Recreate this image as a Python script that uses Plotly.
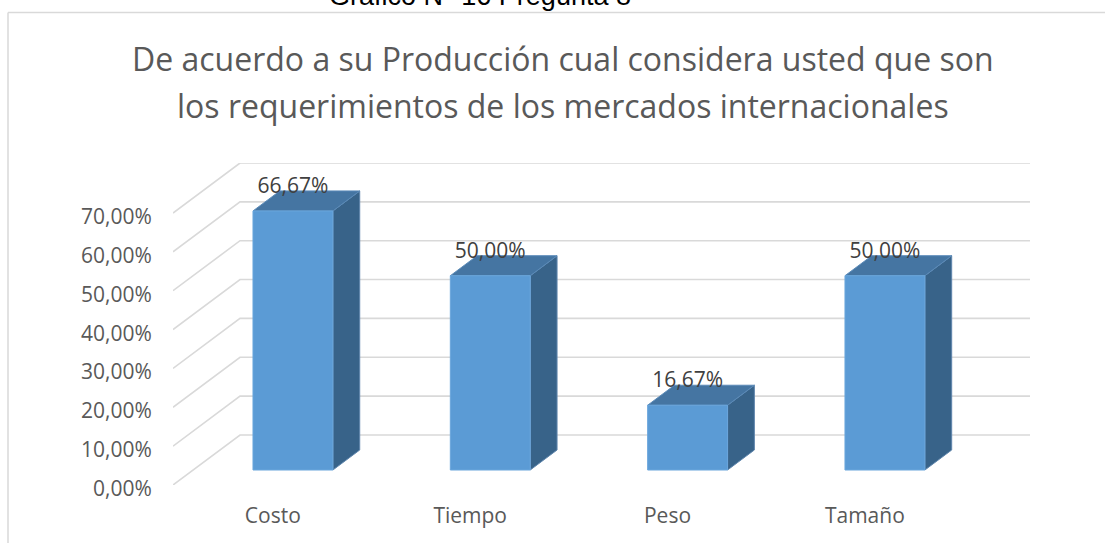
import plotly.graph_objects as go

# ---- data ----
categories = ["Costo", "Tiempo", "Peso", "Tamaño"]
values = [66.67, 50.00, 16.67, 50.00]
value_labels = ["66,67%", "50,00%", "16,67%", "50,00%"]
tick_values = [0, 10, 20, 30, 40, 50, 60, 70]
tick_labels = ["0,00%", "10,00%", "20,00%", "30,00%", "40,00%", "50,00%", "60,00%", "70,00%"]
title_lines = ["De acuerdo a su Producción cual considera usted que son",
               "los requerimientos de los mercados internacionales"]
caption = "Gráfico N° 16 Pregunta 8"

# ---- geometry (pseudo-3D projection in data units) ----
W, H = 1105, 543
PL, PR, PT, PB = 173, 1030, 163, 485   # plot area in pixels
ML, MR, MT, MB = PL, W - PR, PT, H - PB
DX = 0.3396      # depth shift in category units
DY = 12.87       # depth shift in % units
X0, X1 = -0.506, 3.837
Y0, Y1 = 0.0, 70 + DY
D_FRONT, D_BACK = 0.3, 0.7
HALF = 0.2025

def pxp(px):
    return (px - PL) / (PR - PL)

def pyp(py):
    return (PB - py) / (PB - PT)

GRID = "#d9d9d9"
FRONT = "#5B9BD5"
TOP = "#4575A2"
SIDE = "#386389"
TXT = "#595959"
FONT = "Open Sans"

fig = go.Figure()

# back wall gridlines + side wall diagonals
for v in tick_values:
    fig.add_trace(go.Scatter(
        x=[X0, X0 + DX, X1], y=[v, v + DY, v + DY],
        mode="lines", line=dict(color=GRID, width=1.6),
        hoverinfo="skip", showlegend=False, cliponaxis=False))

# value axis labels (placed at the front edge of the side wall)
for v, t in zip(tick_values, tick_labels):
    fig.add_annotation(text=t, x=X0, y=v, xref="x", yref="y",
                       xanchor="right", yanchor="middle", xshift=-19, yshift=-3,
                       showarrow=False,
                       font=dict(family=FONT, size=21, color=TXT))

# bars
for i, (c, v) in enumerate(zip(categories, values)):
    xc = i + D_FRONT * DX
    xl, xr = xc - HALF, xc + HALF
    yb = D_FRONT * DY
    yt = v + D_FRONT * DY
    ddx = (D_BACK - D_FRONT) * DX
    ddy = (D_BACK - D_FRONT) * DY
    # side face
    fig.add_trace(go.Scatter(
        x=[xr, xr + ddx, xr + ddx, xr, xr], y=[yb, yb + ddy, yt + ddy, yt, yb],
        mode="lines", fill="toself", fillcolor=SIDE,
        line=dict(color="#5f86ad", width=1), hoverinfo="skip", showlegend=False))
    # top face
    fig.add_trace(go.Scatter(
        x=[xl, xr, xr + ddx, xl + ddx, xl], y=[yt, yt, yt + ddy, yt + ddy, yt],
        mode="lines", fill="toself", fillcolor=TOP,
        line=dict(color="#5a8ab8", width=1), hoverinfo="skip", showlegend=False))
    # front face
    fig.add_trace(go.Scatter(
        x=[xl, xr, xr, xl, xl], y=[yb, yb, yt, yt, yb],
        mode="lines", fill="toself", fillcolor=FRONT,
        line=dict(color="#6aa6dc", width=1), hoverinfo="skip", showlegend=False))

# data labels
fig.add_trace(go.Scatter(
    x=[i + D_FRONT * DX for i in range(len(values))],
    y=[v + D_BACK * DY + 0.8 for v in values],
    mode="text", text=value_labels, textposition="middle center",
    textfont=dict(family=FONT, size=21, color="#404040"),
    hoverinfo="skip", showlegend=False, cliponaxis=False))

# chart border (top and left edges visible)
fig.add_shape(type="line", xref="paper", yref="paper",
              x0=pxp(8), x1=pxp(1120), y0=pyp(12.5), y1=pyp(12.5),
              line=dict(color="#d9d9d9", width=1.5))
fig.add_shape(type="line", xref="paper", yref="paper",
              x0=pxp(8), x1=pxp(8), y0=pyp(12.5), y1=pyp(570),
              line=dict(color="#d9d9d9", width=1.5))

# titles
for line, py in zip(title_lines, [58, 105]):
    fig.add_annotation(text=line, xref="paper", yref="paper",
                       x=pxp(563), y=pyp(py), xanchor="center", yanchor="middle",
                       showarrow=False,
                       font=dict(family=FONT, size=32, color=TXT))

fig.add_annotation(text=caption, xref="paper", yref="paper",
                   x=pxp(480), y=pyp(-4.3), xanchor="center", yanchor="middle",
                   showarrow=False,
                   font=dict(family="Liberation Sans", size=27, color="#000000"))

fig.update_layout(
    width=W, height=H,
    margin=dict(l=ML, r=MR, t=MT, b=MB, pad=0),
    paper_bgcolor="white", plot_bgcolor="white",
    xaxis=dict(range=[X0, X1], tickvals=list(range(len(categories))), ticktext=categories,
               showgrid=False, zeroline=False, showline=False, ticks="",
               ticklabelstandoff=16,
               tickfont=dict(family=FONT, size=21, color=TXT), fixedrange=True),
    yaxis=dict(range=[Y0, Y1], showticklabels=False,
               showgrid=False, zeroline=False, showline=False, ticks="",
               fixedrange=True),
)

fig.write_html("out.html", config={"displayModeBar": False},
               post_script="document.body.style.margin='0';document.body.style.overflow='hidden';")
